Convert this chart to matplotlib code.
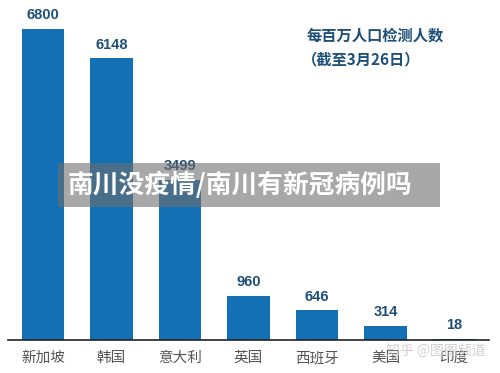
import matplotlib.pyplot as plt
from matplotlib.patches import Rectangle

plt.rcParams['font.family'] = ['Liberation Sans', 'Noto Sans CJK SC', 'DejaVu Sans']

countries = ['新加坡', '韩国', '意大利', '英国', '西班牙', '美国', '印度']
tests = [6800, 6148, 3499, 960, 646, 314, 18]

bar_color = '#1470b4'
navy = '#1d4f78'

fig = plt.figure(figsize=(5, 3.73), dpi=100)
ax = fig.add_axes([8 / 500, 33 / 373, 481 / 500, 340 / 373])

x = range(len(countries))
ax.bar(x, tests, width=0.62, color=bar_color)
ax.set_xlim(-0.51, 6.51)
ax.set_ylim(0, 7424)

for i, v in enumerate(tests):
    ax.text(i, v + 150, str(v), ha='center', va='bottom', fontsize=10.5,
            fontweight='bold', color=navy)

ax.set_xticks(list(x))
ax.set_xticklabels(countries, fontsize=10.5, color='#555555',
                   family=['Noto Sans CJK SC', 'DejaVu Sans'])
ax.tick_params(axis='x', length=0, pad=8)
ax.set_yticks([])
for s in ['top', 'right', 'left']:
    ax.spines[s].set_visible(False)
ax.spines['bottom'].set_color('#222222')
ax.spines['bottom'].set_linewidth(1.2)

# chart title
fig.text(375 / 500, 1 - 36 / 373, '每百万人口检测人数', ha='center', va='center',
         fontsize=11, fontweight='bold', color=navy,
         family=['Noto Sans CJK SC', 'DejaVu Sans'])
fig.text(361 / 500, 1 - 59 / 373, '（截至3月26日）', ha='center', va='center',
         fontsize=11, fontweight='bold', color=navy,
         family=['Noto Sans CJK SC', 'DejaVu Sans'])

# overlay banner
fig.patches.append(Rectangle((58 / 500, 1 - 207 / 373), 382 / 500, 44 / 373,
                             transform=fig.transFigure, facecolor='#6e6e6e',
                             alpha=0.6, edgecolor='none', zorder=5))
fig.text(68 / 500, 1 - 185 / 373, '南川没疫情/南川有新冠病例吗', ha='left', va='center',
         fontsize=18.5, fontweight='bold', color='white', zorder=6,
         family=['Noto Sans CJK SC', 'DejaVu Sans'])

# watermark
fig.text(436 / 500, 1 - 351 / 373, '知乎 @图图频道', ha='center', va='center',
         fontsize=10, color='#cccccc', alpha=0.9, zorder=6,
         family=['Noto Sans CJK SC', 'DejaVu Sans'])

fig.savefig('out.png', dpi=100)
